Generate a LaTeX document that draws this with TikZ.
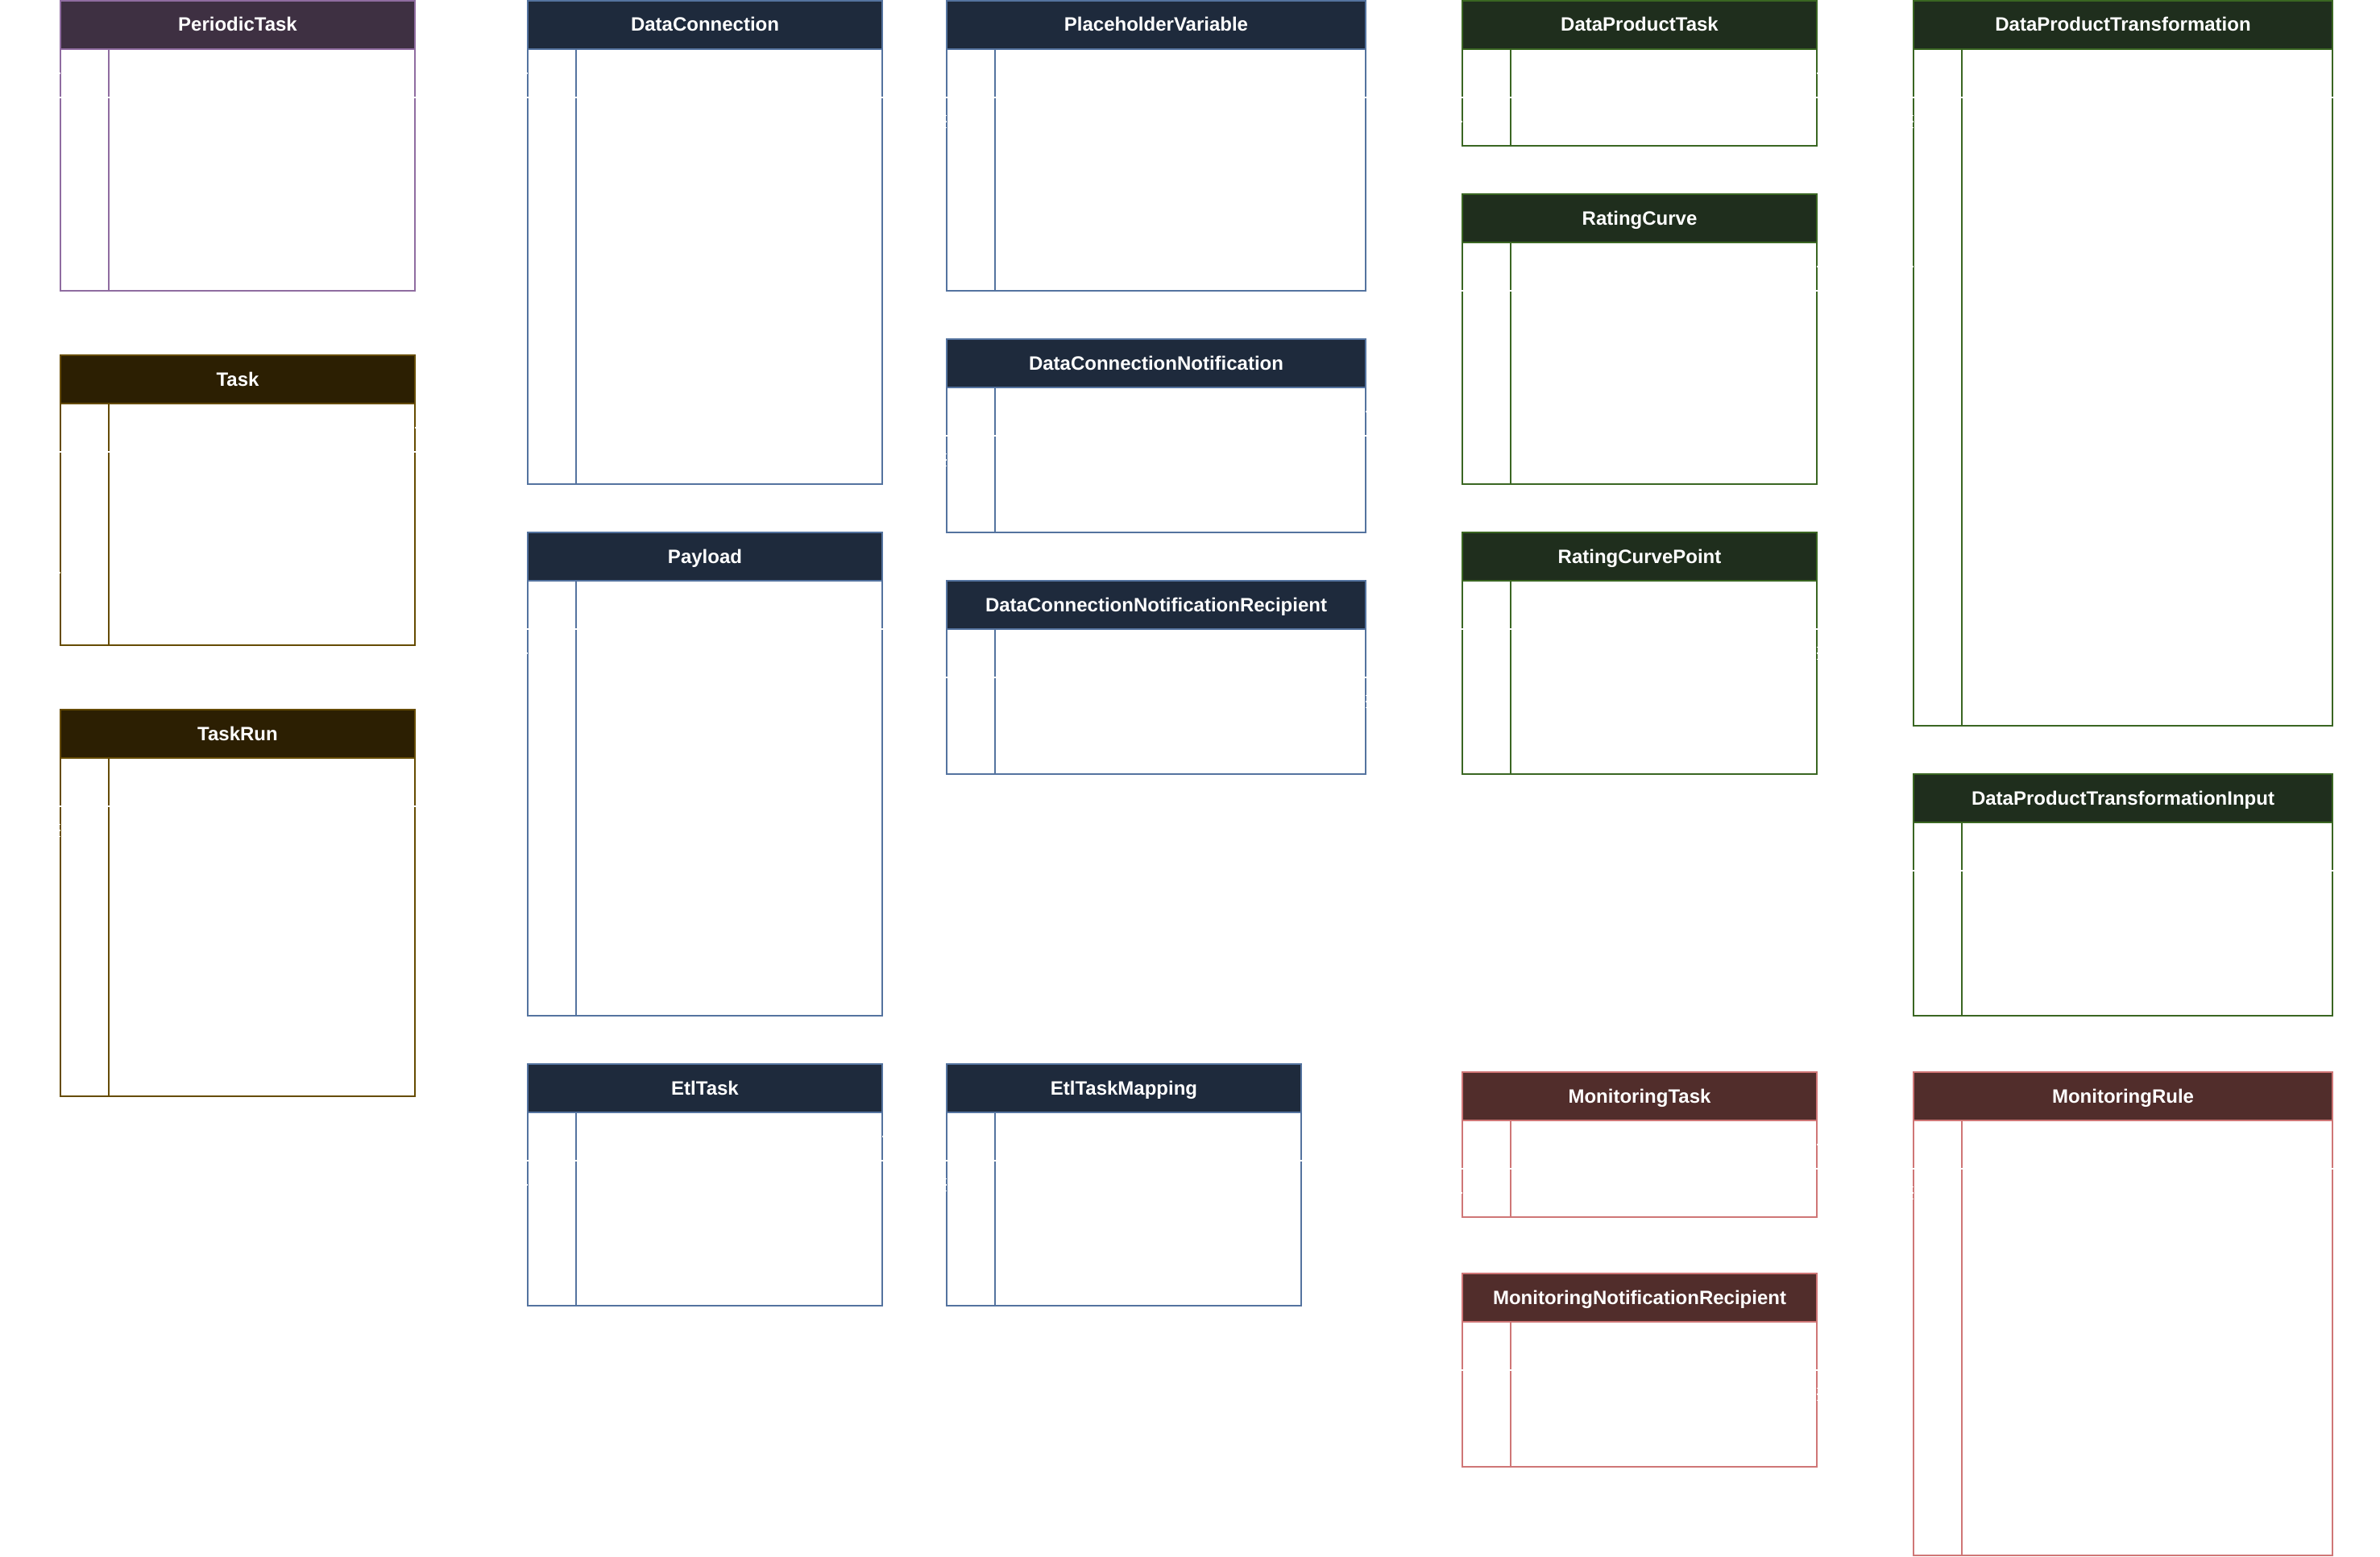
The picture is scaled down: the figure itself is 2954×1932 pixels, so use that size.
\documentclass[tikz,border=0pt]{standalone}
\usepackage{fontspec}
\setmainfont{Liberation Sans}
\definecolor{purpleBd}{HTML}{8F6CA0}\definecolor{purpleHd}{HTML}{3E3042}
\definecolor{blueBd}{HTML}{54739F}\definecolor{blueHd}{HTML}{1E2A3C}
\definecolor{yellowBd}{HTML}{654B00}\definecolor{yellowHd}{HTML}{2C1F02}
\definecolor{greenBd}{HTML}{3A6622}\definecolor{greenHd}{HTML}{1F2E1D}
\definecolor{redBd}{HTML}{CF7676}\definecolor{redHd}{HTML}{512D2B}
\tikzset{
  x=1pt,y=-1pt,
  erbase/.style={rectangle,inner sep=0pt,outer sep=0pt,line width=2.5pt,anchor=north west},
  hdrbox/.style={erbase,minimum height=60pt,text=white,
    font=\fontsize{24}{28}\selectfont\bfseries,text height=19pt,text depth=3pt},
  bodybox/.style={erbase,fill=white},
  keyline/.style={line width=2.5pt},
  rowgap/.style={draw=white,line width=2pt},
  nick/.style={draw=white,line width=2pt},
  finenick/.style={draw=white,line width=1.2pt},
}
% id, x, top, width, body height, title, theme
\newcommand{\erbox}[7]{%
  \node[hdrbox,draw=#7Bd,fill=#7Hd,minimum width=#4pt] (#1h) at (#2,#3) {#6};
  \node[bodybox,draw=#7Bd,minimum width=#4pt,minimum height=#5pt] (#1b) at (#1h.south west) {};
  \draw[keyline,draw=#7Bd] ([xshift=60pt]#1b.north west) -- ([xshift=60pt]#1b.south west);
  \draw[rowgap] ([shift={(-1.5pt,-60pt)}]#1b.north west) -- ([shift={(1.5pt,-60pt)}]#1b.north east);
}
% single notch on outer half of a border: node id, row-centre offset
\newcommand{\nickL}[2]{\draw[nick] ([yshift=-#2pt]#1b.north west) -- ++(-1.3pt,0);}
\newcommand{\nickR}[2]{\draw[nick] ([yshift=-#2pt]#1b.north east) -- ++(1.3pt,0);}
\newcommand{\tripL}[1]{\foreach \d in {82.5,90,97.5}{\draw[finenick] ([yshift=-\d pt]#1b.north west) -- ++(-1.3pt,0);}}
\newcommand{\tripR}[1]{\foreach \d in {82.5,90,97.5}{\draw[finenick] ([yshift=-\d pt]#1b.north east) -- ++(1.3pt,0);}}
\begin{document}
\begin{tikzpicture}
\useasboundingbox[fill=white] (0,0) rectangle (2954,1932);
% column 1
\erbox{pt}{75}{1}{440}{300}{PeriodicTask}{purple}
\erbox{tk}{75}{441}{440}{300}{Task}{yellow}
\erbox{tr}{75}{881}{440}{420}{TaskRun}{yellow}
% column 2
\erbox{dc}{655}{1}{440}{540}{DataConnection}{blue}
\erbox{pl}{655}{661}{440}{540}{Payload}{blue}
\erbox{et}{655}{1321}{440}{240}{EtlTask}{blue}
% column 3
\erbox{pv}{1175}{1}{520}{300}{PlaceholderVariable}{blue}
\erbox{dn}{1175}{421}{520}{180}{DataConnectionNotification}{blue}
\erbox{dr}{1175}{721}{520}{180}{DataConnectionNotificationRecipient}{blue}
\erbox{em}{1175}{1321}{440}{240}{EtlTaskMapping}{blue}
% column 4
\erbox{dp}{1815}{1}{440}{120}{DataProductTask}{green}
\erbox{rc}{1815}{241}{440}{300}{RatingCurve}{green}
\erbox{rp}{1815}{661}{440}{240}{RatingCurvePoint}{green}
\erbox{mt}{1815}{1331}{440}{120}{MonitoringTask}{red}
\erbox{mn}{1815}{1581}{440}{180}{MonitoringNotificationRecipient}{red}
% column 5
\erbox{dt}{2375}{1}{520}{840}{DataProductTransformation}{green}
\erbox{di}{2375}{961}{520}{240}{DataProductTransformationInput}{green}
\erbox{mr}{2375}{1331}{520}{540}{MonitoringRule}{red}
% small notches left in the borders
\nickL{pt}{30}
\nickR{tk}{30}\nickL{tk}{210}
\tripL{tr}
\nickL{dc}{30}
\nickL{pl}{90}
\nickR{et}{30}\nickL{et}{90}
\tripL{pv}
\nickR{dn}{30}\tripL{dn}
\tripR{dr}
\tripL{em}
\nickR{dp}{30}\nickL{dp}{90}
\nickR{rc}{30}
\tripR{rp}
\nickR{mt}{30}\nickL{mt}{90}
\tripR{mn}
\tripL{dt}\nickL{dt}{270}
\tripL{mr}
\end{tikzpicture}
\end{document}
